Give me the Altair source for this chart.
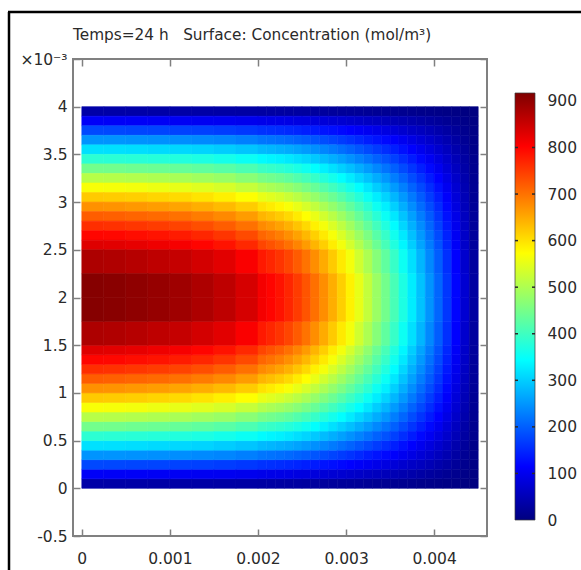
import altair as alt
import pandas as pd

TITLE = "Temps=24 h\u00a0\u00a0\u00a0Surface: Concentration (mol/m³)"

# column edges, x in 10^-3 m
x_edges = [0, 0.25, 0.5, 0.75, 1.0, 1.25, 1.5, 1.75, 2.0,
           2.1, 2.2, 2.3, 2.4, 2.5, 2.6, 2.7, 2.8, 2.9, 3.0,
           3.1, 3.2, 3.3, 3.4, 3.5, 3.6, 3.7, 3.8, 3.9, 4.0,
           4.1, 4.2, 4.3, 4.4, 4.5]
# row edges of the lower half, y in 10^-3 m (the field is mirror-symmetric about y = 2)
y_edges_half = [0, 0.1, 0.2, 0.3, 0.4, 0.5, 0.6, 0.7, 0.8, 0.9, 1.0, 1.1, 1.2,
                1.3, 1.4, 1.5, 1.75, 2.0]
# concentration (mol/m^3), one list per row (bottom edge -> middle)
conc_rows_half = [
    [36, 36, 36, 35, 35, 35, 34, 33, 32, 32, 31, 30, 30, 29, 28, 27, 26, 24, 23, 22, 21, 19, 18, 16, 15, 13, 11, 10, 8, 6, 5, 3, 1],
    [108, 107, 107, 106, 105, 103, 102, 99, 96, 94, 93, 91, 88, 86, 83, 80, 76, 73, 69, 65, 61, 57, 53, 48, 44, 39, 34, 29, 24, 19, 14, 9, 4],
    [179, 178, 177, 176, 174, 172, 169, 164, 159, 157, 154, 151, 147, 142, 138, 132, 127, 121, 115, 108, 102, 95, 88, 80, 72, 64, 57, 49, 40, 32, 23, 14, 6],
    [248, 248, 246, 244, 242, 239, 235, 229, 221, 218, 214, 210, 204, 198, 191, 184, 176, 168, 160, 151, 141, 132, 122, 112, 101, 90, 79, 68, 56, 45, 32, 20, 8],
    [317, 316, 314, 311, 309, 305, 299, 292, 282, 278, 273, 268, 261, 253, 244, 235, 225, 214, 204, 192, 180, 168, 155, 142, 128, 114, 100, 86, 72, 57, 41, 26, 10],
    [383, 382, 380, 377, 374, 369, 362, 353, 341, 336, 331, 324, 315, 306, 295, 284, 272, 259, 246, 232, 218, 203, 188, 172, 155, 138, 121, 104, 87, 69, 50, 31, 13],
    [447, 446, 443, 440, 436, 430, 423, 412, 398, 392, 386, 378, 368, 357, 345, 331, 317, 302, 287, 271, 255, 237, 219, 201, 181, 161, 142, 122, 101, 80, 58, 36, 15],
    [508, 507, 504, 500, 496, 489, 481, 468, 453, 446, 439, 430, 418, 406, 392, 377, 361, 344, 327, 308, 290, 270, 250, 228, 206, 183, 161, 138, 115, 91, 66, 41, 17],
    [567, 565, 562, 557, 552, 545, 536, 522, 505, 497, 489, 479, 466, 452, 437, 420, 402, 383, 364, 344, 323, 300, 278, 254, 230, 204, 180, 154, 128, 102, 74, 46, 19],
    [621, 619, 616, 611, 606, 597, 587, 572, 553, 545, 536, 525, 511, 496, 479, 460, 441, 420, 399, 377, 354, 329, 305, 279, 252, 224, 197, 169, 141, 111, 81, 50, 20],
    [672, 670, 666, 661, 655, 646, 635, 619, 599, 590, 580, 568, 553, 536, 518, 498, 477, 455, 432, 408, 383, 356, 330, 302, 272, 242, 213, 183, 152, 120, 87, 54, 22],
    [719, 716, 712, 707, 701, 691, 679, 662, 640, 631, 620, 607, 591, 573, 554, 532, 510, 486, 462, 436, 409, 381, 353, 323, 291, 259, 228, 196, 163, 129, 94, 58, 24],
    [761, 758, 754, 748, 742, 732, 719, 701, 678, 668, 657, 643, 626, 607, 586, 564, 540, 515, 489, 461, 433, 403, 373, 342, 308, 274, 241, 207, 172, 136, 99, 62, 25],
    [798, 796, 791, 785, 778, 768, 755, 736, 711, 701, 689, 674, 657, 637, 615, 592, 566, 540, 513, 484, 455, 423, 392, 359, 324, 288, 253, 217, 181, 143, 104, 65, 26],
    [831, 828, 824, 817, 810, 799, 786, 766, 740, 729, 717, 702, 684, 663, 640, 616, 589, 562, 534, 504, 473, 440, 408, 373, 337, 300, 263, 226, 188, 149, 108, 67, 27],
    [876, 873, 868, 861, 854, 842, 828, 807, 780, 768, 756, 740, 721, 699, 675, 649, 621, 592, 563, 531, 499, 464, 430, 393, 355, 316, 278, 238, 198, 157, 114, 71, 29],
    [911, 908, 903, 896, 888, 876, 861, 839, 811, 799, 786, 769, 749, 727, 702, 675, 646, 616, 585, 552, 519, 483, 447, 409, 369, 328, 289, 248, 206, 163, 118, 74, 30],
]

Y_TOP = 4.0
x_ticks = [0, 1, 2, 3, 4]
y_ticks = [-0.5, 0, 0.5, 1, 1.5, 2, 2.5, 3, 3.5, 4, 4.5]
cbar_ticks = [0, 100, 200, 300, 400, 500, 600, 700, 800, 900]
cbar_inner_ticks = [100, 200, 300, 400, 500, 600, 700, 800]
c_min, c_max = 0, 917
color_stops = [0, 114.6, 343.9, 573.1, 802.4, 917]
jet_colors = ["#00007f", "#0000ff", "#00ffff", "#ffff00", "#ff0000", "#7f0000"]

records = []
for i, row in enumerate(conc_rows_half):
    y0, y1 = y_edges_half[i], y_edges_half[i + 1]
    for j, v in enumerate(row):
        x0, x1 = x_edges[j], x_edges[j + 1]
        records.append({"x": x0, "x2": x1, "y": y0, "y2": y1, "c": v})
        records.append({"x": x0, "x2": x1, "y": Y_TOP - y1, "y2": Y_TOP - y0, "c": v})
df = pd.DataFrame(records)

GRAY = "#808080"
TXT = "#2a2a2a"
FS = 15.5

xscale = alt.Scale(domain=[-0.1, 4.6], nice=False, zero=False)
yscale = alt.Scale(domain=[-0.5, 4.5], nice=False, zero=False)
cscale = alt.Scale(domain=color_stops, range=jet_colors, interpolate="rgb")

common_axis = dict(offset=-7, tickSize=7, domain=False, grid=False, tickColor=GRAY,
                   tickWidth=1.5, labelFontSize=FS, labelColor=TXT, title=None,
                   labelFlush=False, labelOverlap=False)

heat = alt.Chart(df).mark_rect(strokeWidth=0.6).encode(
    x=alt.X("x:Q", scale=xscale,
            axis=alt.Axis(orient="bottom", values=x_ticks, labelPadding=15,
                          labelExpr="format(datum.value/1000, '~g')", **common_axis)),
    x2="x2:Q",
    y=alt.Y("y:Q", scale=yscale,
            axis=alt.Axis(orient="left", values=y_ticks, labelPadding=6, format="~g",
                          labelExpr="datum.value == 4.5 ? '×10⁻³' : replace(datum.label, '−', '-')",
                          **common_axis)),
    y2="y2:Q",
    color=alt.Color("c:Q", scale=cscale, legend=None),
    stroke=alt.Stroke("c:Q", scale=cscale, legend=None),
)

mirror = alt.Chart(pd.DataFrame({"x": [0], "y": [0]})).mark_point(opacity=0).encode(
    x=alt.X("x:Q", scale=xscale,
            axis=alt.Axis(orient="top", values=x_ticks, labels=False, **common_axis)),
    y=alt.Y("y:Q", scale=yscale,
            axis=alt.Axis(orient="right", values=y_ticks, labels=False, **common_axis)),
)

one = pd.DataFrame({"a": [0]})
frame_left = alt.Chart(one).mark_rule(color="black", strokeWidth=2.5).encode(
    x=alt.value(-64), y=alt.value(-47), y2=alt.value(511))
frame_top = alt.Chart(one).mark_rule(color="black", strokeWidth=2.5).encode(
    x=alt.value(-65), x2=alt.value(508), y=alt.value(-47))

main = alt.layer(heat, mirror, frame_left, frame_top).resolve_axis(
    x="independent", y="independent")

# colour bar: one rect spanning c_min..c_max, filled with the same jet stops
cbar_scale = alt.Scale(domain=[c_min, c_max], range=[461, 34], nice=False, zero=False)
jet_gradient = alt.LinearGradient(
    gradient="linear", x1=0, x2=0, y1=1, y2=0,
    stops=[alt.GradientStop(color=c, offset=(s - c_min) / (c_max - c_min))
           for c, s in zip(jet_colors, color_stops)])
cbar_rect = alt.Chart(pd.DataFrame({"lo": [c_min], "hi": [c_max]})).mark_rect(
    color=jet_gradient, stroke="#3a3a3a", strokeWidth=0.7
).encode(
    x=alt.value(442), x2=alt.value(462),
    y=alt.Y("hi:Q", scale=cbar_scale, axis=None),
    y2="lo:Q",
)
tick_df = pd.DataFrame({"t": cbar_inner_ticks})
cbar_tick_l = alt.Chart(tick_df).mark_rule(color="#2a2a2a", strokeWidth=1.5).encode(
    y=alt.Y("t:Q", scale=cbar_scale, axis=None), x=alt.value(442), x2=alt.value(445))
cbar_tick_r = alt.Chart(tick_df).mark_rule(color="#2a2a2a", strokeWidth=1.5).encode(
    y=alt.Y("t:Q", scale=cbar_scale, axis=None), x=alt.value(459), x2=alt.value(462))
cbar_lab = alt.Chart(pd.DataFrame({"t": cbar_ticks})).mark_point(opacity=0).encode(
    y=alt.Y("t:Q", scale=cbar_scale,
            axis=alt.Axis(orient="right", offset=48, values=cbar_ticks, ticks=False,
                          domain=False, grid=False, labelPadding=12, labelFontSize=FS,
                          labelColor=TXT, title=None, labelFlush=False,
                          labelOverlap=False)),
    x=alt.value(452),
)
cbar = alt.layer(cbar_rect, cbar_tick_l, cbar_tick_r, cbar_lab).resolve_axis(y="independent")

chart = alt.layer(main, cbar).resolve_scale(y="independent").properties(
    width=414, height=477,
    title=alt.TitleParams(TITLE, anchor="start", frame="group", fontSize=15.3,
                          fontWeight="normal", color=TXT, offset=14, dy=47),
    autosize=alt.AutoSizeParams(type="none"),
    padding={"left": 73, "top": 59, "right": 94, "bottom": 34},
).configure(font="DejaVu Sans", background="white").configure_view(
    stroke=GRAY, strokeWidth=2
)

chart.save("out.html", embed_options={"renderer": "svg", "actions": False})
